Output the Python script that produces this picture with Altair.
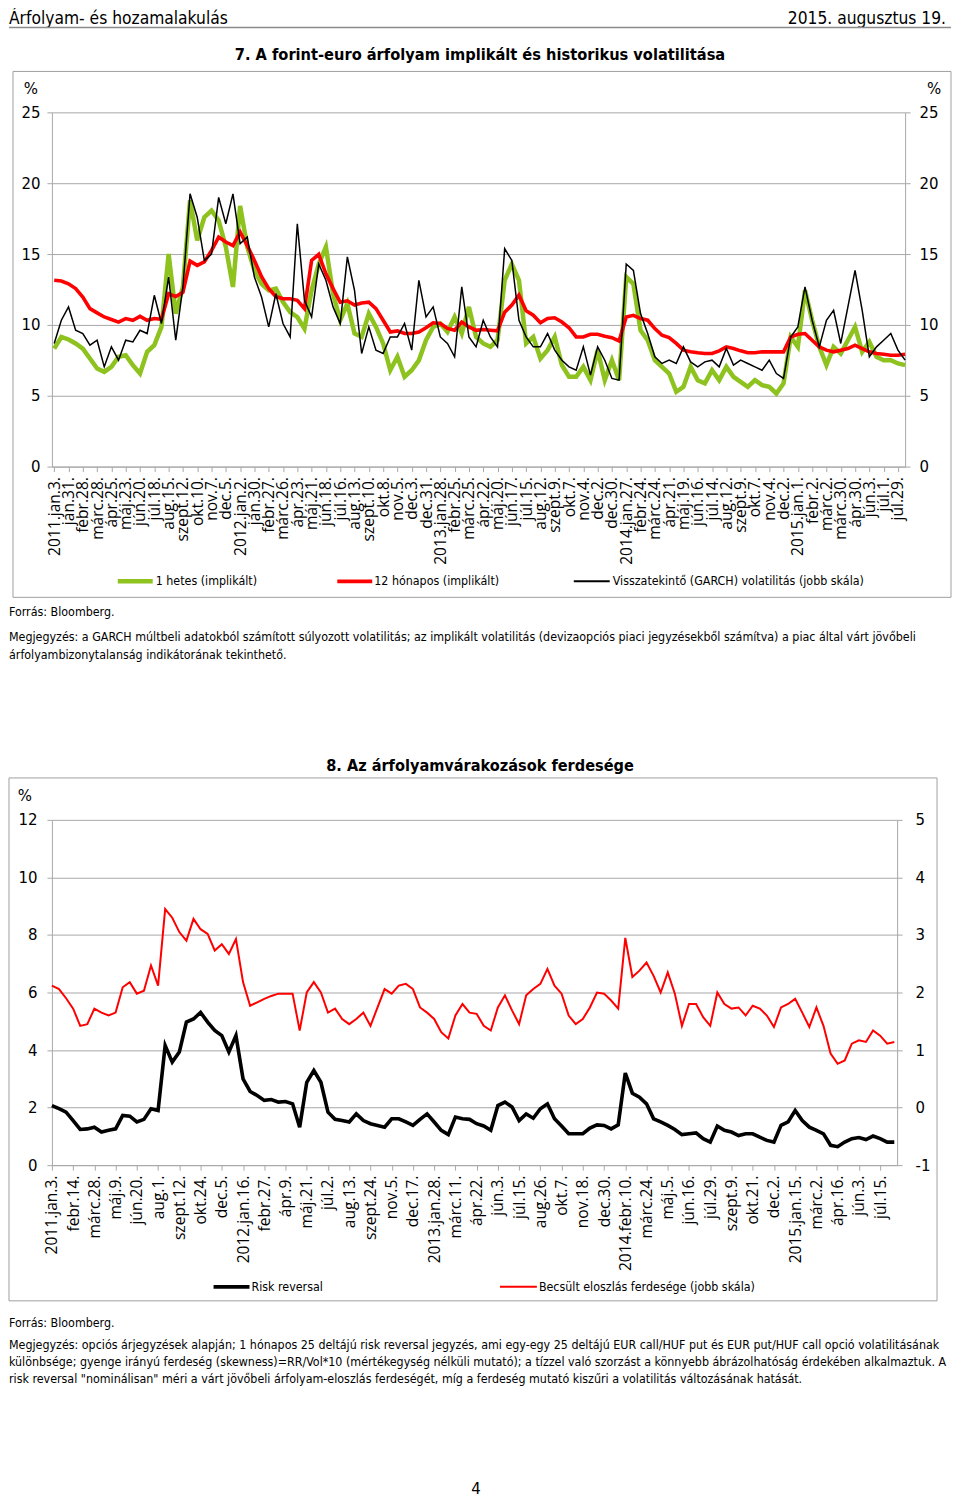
import json
import altair as alt
import pandas as pd

# ---------------- data: chart 7 (weekly index, every 2nd week) ----------------
weeks = list(range(0, 240, 2))

green1 = [8.33, 9.15, 8.97, 8.69, 8.33, 7.63, 6.92, 6.69, 7.04, 7.75,
          7.86, 7.16, 6.57, 8.1, 8.57, 9.86, 15.0, 10.8, 12.68, 18.8,
          15.96, 17.6, 18.07, 17.37, 15.5, 12.68, 18.4, 15.5, 13.85, 12.9,
          12.44, 12.56, 11.62, 10.9, 10.56, 9.74, 12.44, 14.3, 15.5, 12.2,
          10.33, 11.5, 9.39, 9.15, 10.8, 9.86, 8.69, 6.8, 7.75, 6.34,
          6.8, 7.5, 8.92, 9.86, 10.1, 9.5, 10.56, 9.39, 11.27, 9.15,
          8.69, 8.45, 8.92, 13.15, 14.3, 13.15, 8.69, 9.15, 7.63, 8.22,
          9.15, 7.16, 6.34, 6.34, 7.04, 6.1, 8.22, 6.1, 7.51, 6.1,
          13.38, 12.9, 9.62, 8.92, 7.51, 7.04, 6.57, 5.28, 5.63, 7.04,
          6.1, 5.87, 6.8, 6.1, 7.04, 6.34, 5.98, 5.63, 6.1, 5.75,
          5.63, 5.16, 5.87, 9.15, 8.45, 12.44, 10.33, 8.45, 7.16, 8.45,
          7.98, 8.92, 9.86, 8.1, 8.8, 7.75, 7.51, 7.51, 7.28, 7.16]

red1 = [13.15, 13.1, 12.9, 12.56, 11.97, 11.15, 10.85, 10.56, 10.38, 10.2,
        10.45, 10.33, 10.6, 10.33, 10.45, 10.4, 12.2, 12.0, 12.3, 14.5,
        14.2, 14.45, 15.25, 16.2, 15.85, 15.6, 16.55, 15.6, 14.55, 13.4,
        12.56, 12.0, 11.85, 11.85, 11.74, 11.15, 14.55, 14.98, 13.6, 12.56,
        11.6, 11.7, 11.4, 11.55, 11.6, 11.15, 10.33, 9.5, 9.58, 9.39,
        9.39, 9.5, 9.8, 10.15, 10.1, 9.75, 9.62, 10.2, 9.86, 9.62,
        9.67, 9.62, 9.58, 10.9, 11.4, 12.1, 11.0, 10.68, 10.15, 10.45,
        10.5, 10.2, 9.8, 9.15, 9.15, 9.34, 9.34, 9.2, 9.1, 8.87,
        10.56, 10.68, 10.45, 10.33, 9.74, 9.27, 9.1, 8.69, 8.22, 8.1,
        8.03, 7.98, 7.98, 8.17, 8.45, 8.33, 8.17, 8.03, 8.03, 8.1,
        8.1, 8.1, 8.1, 9.15, 9.34, 9.39, 8.92, 8.45, 8.22, 8.1,
        8.22, 8.33, 8.57, 8.33, 8.1, 7.98, 7.93, 7.86, 7.86, 7.93]

black1 = [8.69, 10.33, 11.27, 9.62, 9.39, 8.57, 8.92, 7.04, 8.45, 7.51,
          8.92, 8.8, 9.62, 9.39, 12.09, 10.1, 13.38, 8.92, 12.68, 19.25,
          17.6, 14.55, 15.0, 19.0, 17.14, 19.25, 15.73, 16.2, 13.38, 11.97,
          9.86, 12.2, 10.1, 9.15, 17.14, 11.74, 10.56, 14.3, 13.15, 11.27,
          10.1, 14.8, 12.44, 7.98, 9.86, 8.22, 7.98, 9.15, 9.15, 10.1,
          8.22, 13.15, 10.56, 11.27, 9.15, 8.69, 7.75, 12.68, 9.15, 8.45,
          10.33, 9.15, 8.45, 15.38, 14.55, 10.33, 9.15, 8.45, 8.45, 9.39,
          8.22, 7.51, 7.04, 6.8, 8.45, 6.46, 8.45, 7.51, 6.22, 6.1,
          14.3, 13.85, 10.8, 9.39, 7.75, 7.28, 7.51, 7.28, 8.45, 7.39,
          7.04, 7.39, 7.51, 7.04, 8.33, 7.16, 7.51, 7.28, 7.04, 6.8,
          7.51, 6.57, 6.22, 9.15, 9.86, 12.68, 10.33, 8.45, 10.33, 11.03,
          8.69, 11.27, 13.85, 11.03, 7.75, 8.45, 8.92, 9.39, 8.22, 7.51]

# ---------------- data: chart 8 ----------------
rr2 = [2.07, 1.96, 1.84, 1.55, 1.24, 1.26, 1.32, 1.15, 1.21, 1.26,
       1.73, 1.7, 1.5, 1.59, 1.96, 1.9, 4.16, 3.58, 3.93, 4.97,
       5.08, 5.31, 4.97, 4.68, 4.5, 3.93, 4.5, 3.0, 2.56, 2.42,
       2.25, 2.28, 2.19, 2.21, 2.13, 1.32, 2.88, 3.29, 2.88, 1.84,
       1.59, 1.55, 1.5, 1.78, 1.55, 1.44, 1.38, 1.32, 1.61, 1.61,
       1.5, 1.38, 1.59, 1.78, 1.5, 1.21, 1.06, 1.67, 1.61, 1.59,
       1.44, 1.36, 1.21, 2.07, 2.19, 2.02, 1.55, 1.78, 1.63, 1.96,
       2.13, 1.61, 1.36, 1.09, 1.09, 1.09, 1.29, 1.4, 1.38, 1.26,
       1.4, 3.2, 2.5, 2.36, 2.13, 1.61, 1.5, 1.38, 1.24, 1.06,
       1.09, 1.12, 0.92, 0.8, 1.36, 1.21, 1.15, 1.03, 1.09, 1.09,
       0.97, 0.86, 0.8, 1.38, 1.5, 1.9, 1.55, 1.32, 1.21, 1.09,
       0.69, 0.64, 0.8, 0.92, 0.96, 0.89, 1.01, 0.92, 0.8, 0.8]

skew2 = [2.12, 2.06, 1.9, 1.72, 1.42, 1.45, 1.72, 1.65, 1.6, 1.65,
         2.09, 2.18, 1.98, 2.03, 2.47, 2.12, 3.45, 3.3, 3.05, 2.9,
         3.28, 3.1, 3.02, 2.73, 2.84, 2.67, 2.93, 2.18, 1.77, 1.83,
         1.89, 1.94, 1.98, 1.98, 1.98, 1.34, 2.0, 2.18, 2.0, 1.65,
         1.72, 1.54, 1.45, 1.54, 1.65, 1.42, 1.74, 2.06, 1.98, 2.12,
         2.15, 2.06, 1.74, 1.65, 1.54, 1.31, 1.2, 1.6, 1.8, 1.65,
         1.63, 1.42, 1.34, 1.74, 1.95, 1.69, 1.45, 1.95, 2.06, 2.15,
         2.41, 2.12, 1.98, 1.6, 1.45, 1.54, 1.74, 2.0, 1.98, 1.86,
         1.72, 2.95, 2.27, 2.38, 2.52, 2.29, 2.0, 2.35, 1.98, 1.42,
         1.8, 1.8, 1.57, 1.42, 2.0, 1.8, 1.72, 1.74, 1.6, 1.77,
         1.72, 1.6, 1.4, 1.74, 1.8, 1.89, 1.65, 1.4, 1.74, 1.42,
         0.94, 0.76, 0.82, 1.11, 1.17, 1.14, 1.34, 1.25, 1.11, 1.14]

labels1 = ["2011.jan.3.", "jan.31.", "febr.28.", "márc.28.", "ápr.25.", "máj.23.", "jún.20.",
           "júl.18.", "aug.15.", "szept.12.", "okt.10.", "nov.7.", "dec.5.",
           "2012.jan.2.", "jan.30.", "febr.27.", "márc.26.", "ápr.23.", "máj.21.", "jún.18.",
           "júl.16.", "aug.13.", "szept.10.", "okt.8.", "nov.5.", "dec.3.", "dec.31.",
           "2013.jan.28.", "febr.25.", "márc.25.", "ápr.22.", "máj.20.", "jún.17.", "júl.15.",
           "aug.12.", "szept.9.", "okt.7.", "nov.4.", "dec.2.", "dec.30.",
           "2014.jan.27.", "febr.24.", "márc.24.", "ápr.21.", "máj.19.", "jún.16.", "júl.14.",
           "aug.12.", "szept.9.", "okt.7.", "nov.4.", "dec.2.",
           "2015.jan.1.", "febr.2.", "márc.2.", "márc.30.", "ápr.30.", "jún.3.", "júl.1.", "júl.29."]

labels2 = ["2011.jan.3.", "febr.14.", "márc.28.", "máj.9.", "jún.20.", "aug.1.", "szept.12.",
           "okt.24.", "dec.5.", "2012.jan.16.", "febr.27.", "ápr.9.", "máj.21.", "júl.2.",
           "aug.13.", "szept.24.", "nov.5.", "dec.17.", "2013.jan.28.", "márc.11.", "ápr.22.",
           "jún.3.", "júl.15.", "aug.26.", "okt.7.", "nov.18.", "dec.30.", "2014.febr.10.",
           "márc.24.", "máj.5.", "jún.16.", "júl.29.", "szept.9.", "okt.21.", "dec.2.",
           "2015.jan.15.", "márc.2.", "ápr.16.", "jún.3.", "júl.15."]

ticks1 = [0, 5, 10, 15, 20, 25]
ticks2L = [0, 2, 4, 6, 8, 10, 12]
ticks2R = [-1, 0, 1, 2, 3, 4, 5]

# ---------------- styling ----------------
FT = "'DejaVu Sans Condensed', 'Liberation Sans Narrow', sans-serif"
FTICK = "Open Sans"
FNUM = "DejaVu Sans"
GRID = "#a8a8a8"
BOX = "#a0a0a0"
NOTE = 12.4


def blank():
    return alt.Chart(alt.Data(values=[{}]))


def txt(x, y, s, size=NOTE, align="left", weight="normal", font=FT):
    return blank().mark_text(align=align, baseline="middle", fontSize=size, font=font,
                             fontWeight=weight, color="#000").encode(
        x=alt.value(x), y=alt.value(y), text=alt.value(s))


def seg(x1, y1, x2, y2, color, width):
    return blank().mark_rule(color=color, strokeWidth=width).encode(
        x=alt.value(x1), x2=alt.value(x2), y=alt.value(y1), y2=alt.value(y2))


def box(x1, y1, x2, y2):
    return blank().mark_rect(fill="transparent", stroke=BOX, strokeWidth=1).encode(
        x=alt.value(x1), x2=alt.value(x2), y=alt.value(y1), y2=alt.value(y2))


def xaxis(labels, step):
    expr = json.dumps(labels, ensure_ascii=False) + "[round(datum.value/" + str(step) + ")]"
    return alt.Axis(values=list(range(0, step * len(labels), step)), labelExpr=expr,
                    labelAngle=-90, labelFont=FTICK, labelFontSize=15.6, labelColor="#000",
                    labelOverlap=False, labelBound=False, labelFlush=False, labelPadding=5,
                    tickSize=5, tickColor=GRID, domainColor=GRID, grid=False, title=None)


def yaxis(vals, orient, pad):
    return alt.Axis(values=vals, orient=orient, grid=(orient == "left"), gridColor=GRID,
                    domainColor=GRID, tickColor=GRID, tickSize=5, labelFont=FNUM,
                    labelFontSize=15, labelColor="#000", labelPadding=pad, title=None,
                    labelExpr="datum.value + ''")


# ---------------- chart 7 ----------------
W1, H1 = 855, 355
df1 = pd.DataFrame({"w": weeks, "g": green1, "r": red1, "b": black1})
x1 = alt.X("w:Q", scale=alt.Scale(domain=[-0.64, 238.0], nice=False, zero=False),
           axis=xaxis(labels1, 4))
sc1 = alt.Scale(domain=[0, 25], nice=False)
axL1 = yaxis(ticks1, "left", 7)
base1 = alt.Chart(df1)
g_line = base1.mark_line(color="#8dc21f", strokeWidth=4.5).encode(
    x=x1, y=alt.Y("g:Q", scale=sc1, axis=axL1))
r_line = base1.mark_line(color="#ff0000", strokeWidth=3.6).encode(
    x=x1, y=alt.Y("r:Q", scale=sc1, axis=axL1))
b_line = base1.mark_line(color="#000000", strokeWidth=1.5).encode(
    x=x1, y=alt.Y("b:Q", scale=alt.Scale(domain=[0, 25], nice=False),
                  axis=yaxis(ticks1, "right", 9)))

deco1 = [
    blank().mark_rect(fill="white").encode(x=alt.value(-43), x2=alt.value(-42),
                                           y=alt.value(-103), y2=alt.value(-102)),
    txt(-43, -93.5, "Árfolyam- és hozamalakulás", size=17.3),
    txt(896, -93.5, "2015. augusztus 19.", size=17.3, align="right"),
    seg(-43, -85, 901, -85, "#8a8a8a", 1.5),
    txt(429, -57, "7. A forint-euro árfolyam implikált és historikus volatilitása",
        size=16.3, align="center", weight="bold"),
    box(-39, -41, 901, 486),
    txt(-21, -23, "%", size=15, align="center", font=FNUM),
    txt(884, -23, "%", size=15, align="center", font=FNUM),
    seg(66, 470, 101, 470, "#8dc21f", 4.5),
    txt(104, 470, "1 hetes (implikált)"),
    seg(286, 470, 321, 470, "#ff0000", 3.6),
    txt(323, 470, "12 hónapos (implikált)"),
    seg(523, 470, 559, 470, "#000000", 2),
    txt(562, 470, "Visszatekintő (GARCH) volatilitás (jobb skála)"),
    txt(-43, 501, "Forrás: Bloomberg."),
    txt(-43, 526, "Megjegyzés: a GARCH múltbeli adatokból számított súlyozott volatilitás; az "
        "implikált volatilitás (devizaopciós piaci jegyzésekből számítva) a piac által várt jövőbeli"),
    txt(-43, 544, "árfolyambizonytalanság indikátorának tekinthető."),
]

chart1 = alt.layer(*deco1, alt.layer(g_line, r_line), b_line).resolve_scale(
    y="independent").properties(width=W1, height=H1)

# ---------------- chart 8 ----------------
W2, H2 = 847, 346
df2 = pd.DataFrame({"w": weeks, "rr": rr2, "sk": skew2})
x2 = alt.X("w:Q", scale=alt.Scale(domain=[0, 238.8], nice=False, zero=False),
           axis=xaxis(labels2, 6))
base2 = alt.Chart(df2)
rr_line = base2.mark_line(color="#000000", strokeWidth=3.6).encode(
    x=x2, y=alt.Y("rr:Q", scale=alt.Scale(domain=[0, 12], nice=False),
                  axis=yaxis(ticks2L, "left", 10)))
sk_line = base2.mark_line(color="#ff0000", strokeWidth=2).encode(
    x=x2, y=alt.Y("sk:Q", scale=alt.Scale(domain=[-1, 5], nice=False),
                  axis=yaxis(ticks2R, "right", 13)))

deco2 = [
    txt(429, -54, "8. Az árfolyamvárakozások ferdesége", size=16.2, align="center", weight="bold"),
    box(-43, -42, 887, 482),
    txt(-27, -24, "%", size=15, align="center", font=FNUM),
    seg(162, 468, 198, 468, "#000000", 3.6),
    txt(200, 468, "Risk reversal"),
    seg(449, 468, 486, 468, "#ff0000", 2),
    txt(488, 468, "Becsült eloszlás ferdesége (jobb skála)"),
    txt(-43, 504, "Forrás: Bloomberg."),
    txt(-43, 526, "Megjegyzés: opciós árjegyzések alapján; 1 hónapos 25 deltájú risk reversal "
        "jegyzés, ami egy-egy 25 deltájú EUR call/HUF put és EUR put/HUF call opció volatilitásának"),
    txt(-43, 543, "különbsége; gyenge irányú ferdeség (skewness)=RR/Vol*10 (mértékegység nélküli "
        "mutató); a tízzel való szorzást a könnyebb ábrázolhatóság érdekében alkalmaztuk.  A"),
    txt(-43, 560, "risk reversal \"nominálisan\" méri a várt jövőbeli árfolyam-eloszlás "
        "ferdeségét, míg a ferdeség mutató kiszűri a volatilitás változásának hatását."),
    txt(425, 671, "4", size=15, align="center", font=FNUM),
]

chart2 = alt.layer(*deco2, rr_line, sk_line).resolve_scale(
    y="independent").properties(width=W2, height=H2)

chart = alt.vconcat(chart1, chart2, spacing=354, bounds="flush").properties(
    padding=0).configure_view(stroke=None)

chart.save("out.html", embed_options={"renderer": "svg", "actions": False})
